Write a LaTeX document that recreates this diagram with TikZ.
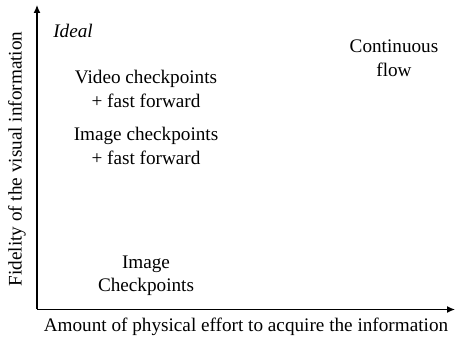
\documentclass[tikz,border=0pt]{standalone}
\usepackage{fontspec}
\setmainfont{Liberation Serif}
\usetikzlibrary{arrows.meta}
\begin{document}
\begin{tikzpicture}[x=1pt,y=-1pt,
  lbl/.style={align=center,inner sep=0pt,font=\fontsize{19.2}{23.5}\selectfont},
  axis/.style={line width=1.3pt,-{Latex[length=8pt,width=7pt]}}]
\useasboundingbox (0,0) rectangle (456,339);
\coordinate (o) at (37,309.5);
\coordinate (xe) at (455,309.5);
\coordinate (ye) at (37,5);
\draw[axis] (o) -- (xe);
\draw[axis] (o) -- (ye);
\node[lbl,font=\fontsize{19.2}{23.5}\selectfont\itshape] (ideal) at (73,31) {Ideal};
\node[lbl] (video) at (146,89) {Video checkpoints\\+ fast forward};
\node[lbl] (image) at (146,146) {Image checkpoints\\+ fast forward};
\node[lbl] (flow) at (394,58) {Continuous\\flow};
\node[lbl] (ic) at (146,276) {Image\\Checkpoints};
\node[lbl] (xl) at (246,327) {Amount of physical effort to acquire the information};
\node[lbl,rotate=90] (yl) at (17,159) {Fidelity of the visual information};
\end{tikzpicture}
\end{document}
